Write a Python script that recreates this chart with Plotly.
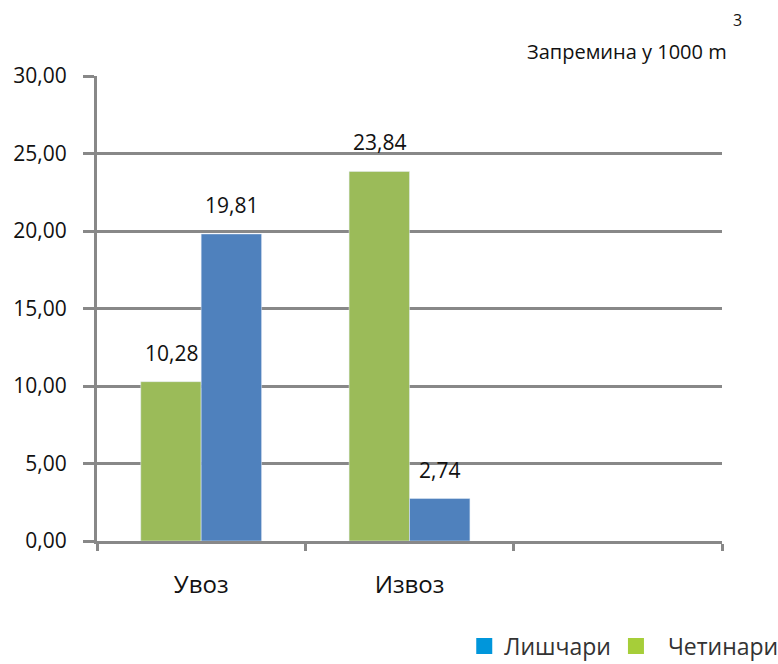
import plotly.graph_objects as go

categories = ["Увоз", "Извоз", " "]
conifer = [10.28, 23.84, None]      # Четинари
broadleaf = [19.81, 2.74, None]     # Лишчари
series_names = ["Четинари", "Лишчари"]

GRID = "#888888"
FONT = "Open Sans"

fig = go.Figure()

fig.add_trace(go.Bar(
    x=categories, y=conifer, name=series_names[0],
    marker_color="#9BBB59", showlegend=False,
))
fig.add_trace(go.Bar(
    x=categories, y=broadleaf, name=series_names[1],
    marker_color="#4F81BD", showlegend=False,
))

# legend swatches (the legend in the original uses brighter colours)
fig.add_trace(go.Scatter(
    x=[None], y=[None], mode="markers", name=series_names[1],
    marker=dict(symbol="square", size=16, color="#0096DB"),
))
fig.add_trace(go.Scatter(
    x=[None], y=[None], mode="markers", name="\u00a0\u00a0" + series_names[0],
    marker=dict(symbol="square", size=16, color="#A6CE39"),
))

# value labels above the bars
for cat, v in zip(categories, conifer):
    if v is not None:
        fig.add_annotation(x=cat, y=v, text=f"{v:.2f}".replace(".", ","),
                           xshift=-30, yshift=29, showarrow=False,
                           font=dict(size=21, color="#111111"))
for cat, v in zip(categories, broadleaf):
    if v is not None:
        fig.add_annotation(x=cat, y=v, text=f"{v:.2f}".replace(".", ","),
                           xshift=30, yshift=29, showarrow=False,
                           font=dict(size=21, color="#111111"))

fig.add_annotation(xref="paper", yref="paper", x=1.011, y=1.052, xanchor="right",
                   yanchor="middle", text="Запремина у 1000 m", showarrow=False,
                   font=dict(size=20, color="#111111"))
fig.add_annotation(xref="paper", yref="paper", x=1.014, y=1.12, xanchor="left",
                   yanchor="middle", text="3", showarrow=False,
                   font=dict(size=16, color="#111111"))

fig.update_layout(
    width=778, height=664,
    margin=dict(l=97, r=56, t=76, b=123, autoexpand=False),
    barmode="group", bargap=0.42, bargroupgap=0,
    separators=", ",
    plot_bgcolor="white", paper_bgcolor="white",
    font=dict(family=FONT, size=21, color="#111111"),
    showlegend=True,
    legend=dict(orientation="h", x=1.098, xanchor="right", y=-0.226, yanchor="middle",
                font=dict(size=23, color="#333333"), itemwidth=30,
                bgcolor="rgba(0,0,0,0)"),
    xaxis=dict(
        type="category", range=[-0.5, 2.5],
        showline=True, linecolor=GRID, linewidth=3,
        ticks="outside", tickson="boundaries", ticklen=7, tickwidth=3, tickcolor=GRID,
        ticklabelstandoff=20, showgrid=False, tickfont=dict(size=24),
    ),
    yaxis=dict(
        range=[0, 30], dtick=5, tickformat=".2f",
        showline=True, linecolor=GRID, linewidth=3,
        ticks="outside", ticklen=11, tickwidth=3, tickcolor=GRID, ticklabelstandoff=12,
        showgrid=True, gridcolor=GRID, gridwidth=3, zeroline=False,
    ),
)

fig.write_html("out.html", config={"displayModeBar": False},
               post_script="document.body.style.margin='0px';document.body.style.overflow='hidden';")
